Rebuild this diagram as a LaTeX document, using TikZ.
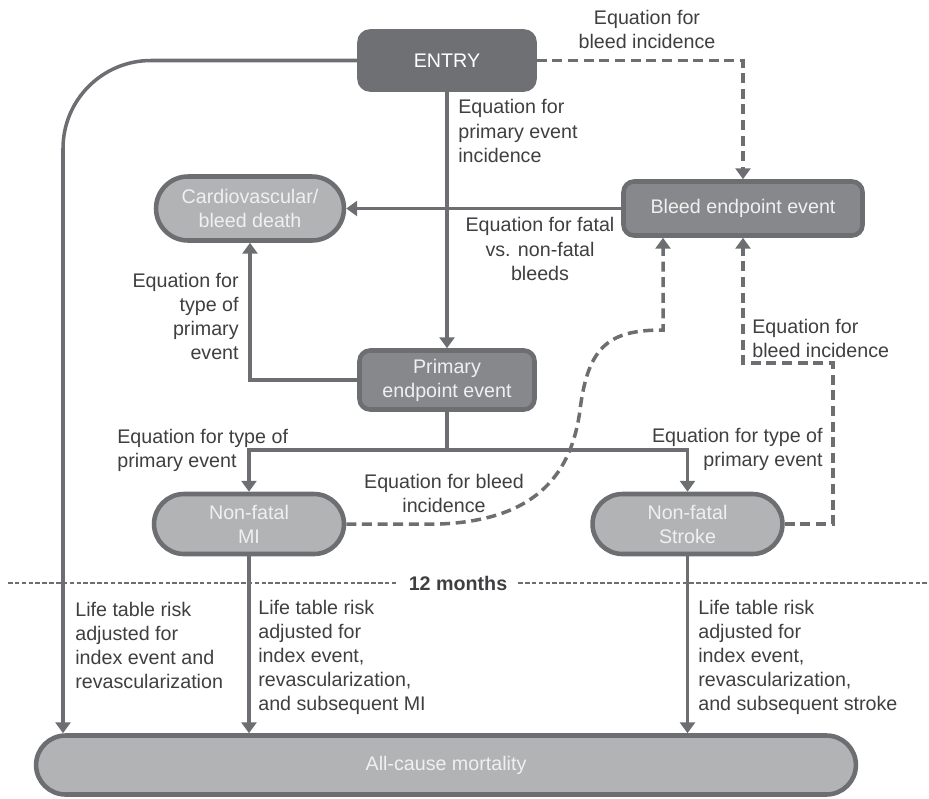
\documentclass[tikz,border=0pt]{standalone}
\usepackage{fontspec}
\setmainfont{Liberation Sans}
\usetikzlibrary{arrows.meta,shapes.misc}
\definecolor{lc}{HTML}{6D6E71}
\definecolor{darkfill}{HTML}{6F7073}
\definecolor{midfill}{HTML}{87888B}
\definecolor{lightfill}{HTML}{B2B3B5}
\definecolor{txt}{HTML}{3F3F42}
\begin{document}
\begin{tikzpicture}[x=0.02cm,y=-0.02cm,
  font=\fontsize{11.2}{13.7}\selectfont,
  tip/.tip={Triangle[width=8.5pt,length=6.2pt]},
  conn/.style={draw=lc, line width=2pt, -tip},
  dconn/.style={conn, dash pattern=on 5.7pt off 3.2pt},
  plain/.style={draw=lc, line width=2pt},
  boxdark/.style={rectangle, rounded corners=6pt, fill=darkfill, draw=darkfill, line width=2.6pt, text=white, align=center, inner sep=2pt},
  boxmid/.style={rectangle, rounded corners=6pt, fill=midfill, draw=lc, line width=2.6pt, text=white!94!black, align=center, inner sep=2pt},
  pill/.style={rounded rectangle, fill=lightfill, draw=lc, line width=2.6pt, text=white!94!black, align=center, inner sep=2pt},
  lbl/.style={text=txt, inner sep=0pt}
]
\useasboundingbox (0,0) rectangle (929,798);

% nodes
\node[boxdark, minimum width=3.5cm, minimum height=1.16cm] (entry) at (447,60.5) {ENTRY};
\node[pill, minimum width=3.9cm, minimum height=1.28cm] (cardio) at (250,208.5) {Cardiovascular/\\bleed death};
\node[boxmid, minimum width=4.78cm, minimum height=1.08cm] (bleed) at (743,208.5) {Bleed endpoint event};
\node[boxmid, minimum width=3.5cm, minimum height=1.18cm] (primary) at (447,380) {Primary\\endpoint event};
\node[pill, minimum width=3.94cm, minimum height=1.2cm] (mi) at (249,524) {Non-fatal\\MI};
\node[pill, minimum width=3.94cm, minimum height=1.2cm] (stroke) at (687.5,524) {Non-fatal\\Stroke};
\node[pill, minimum width=16.54cm, minimum height=1.18cm] (allcause) at (446,765) {All-cause mortality};

% helper coordinates
\coordinate (lcol) at (63,0);
\coordinate (split) at (447,450);
\coordinate (bcol) at (663,0);
\coordinate (sr) at (833,363);

% solid connectors
\draw[conn, rounded corners=1.76cm] (entry.west) -| (lcol |- allcause.north);
\draw[conn] (entry.south) -- (primary.north);
\draw[conn] (bleed.west) -- (cardio.east);
\draw[conn] (primary.west) -| (cardio.south);
\draw[plain] (primary.south) -- (split);
\draw[conn] (split) -| (mi.north);
\draw[conn] (split) -| (stroke.north);
\draw[conn] (mi.south) -- (mi.south |- allcause.north);
\draw[conn] (stroke.south) -- (stroke.south |- allcause.north);

% dashed connectors
\draw[dconn] (entry.east) -| (bleed.north);
\draw[dconn] (mi.east) -- (440,524) .. controls (540,520) and (572,470) .. (580,410)
  .. controls (588,345) and (610,330) .. (663,330) -- (bcol |- bleed.south);
\draw[dconn] (stroke.east) -| (sr) -| (bleed.south);

% 12 months line
\node[lbl, font=\fontsize{11.2}{13.7}\selectfont\bfseries, inner xsep=6pt] (twelve) at (458,583) {12 months};
\coordinate (tl) at (8,583);
\coordinate (tr) at (929,583);
\draw[lc, line width=0.9pt, dash pattern=on 2.6pt off 1.3pt] (tl) -- (twelve.west);
\draw[lc, line width=0.9pt, dash pattern=on 2.6pt off 1.3pt] (twelve.east) -- (tr);

% labels
\node[lbl, align=center] (l1) at (647,29.5) {Equation for\\bleed incidence};
\node[lbl, align=left, anchor=west] (l2) at (458,131) {Equation for\\primary event\\incidence};
\node[lbl, align=center] (l3) at (540,249) {Equation for fatal\\vs. non-fatal\\bleeds};
\node[lbl, align=right, anchor=east] (l4) at (239,316.5) {Equation for\\type of\\primary\\event};
\node[lbl, align=left, anchor=west] (l5) at (117,450) {Equation for type of\\primary event};
\node[lbl, align=right, anchor=east] (l6) at (823,449.5) {Equation for type of\\primary event};
\node[lbl, align=center] (l7) at (444,493) {Equation for bleed\\incidence};
\node[lbl, align=left, anchor=west] (l8) at (752,338) {Equation for\\bleed incidence};
\node[lbl, align=left, anchor=west] (l9) at (75,645.5) {Life table risk\\adjusted for\\index event and\\revascularization};
\node[lbl, align=left, anchor=west] (l10) at (258,657.5) {Life table risk\\adjusted for\\index event,\\revascularization,\\and subsequent MI};
\node[lbl, align=left, anchor=west] (l11) at (698,657.5) {Life table risk\\adjusted for\\index event,\\revascularization,\\and subsequent stroke};
\end{tikzpicture}
\end{document}
